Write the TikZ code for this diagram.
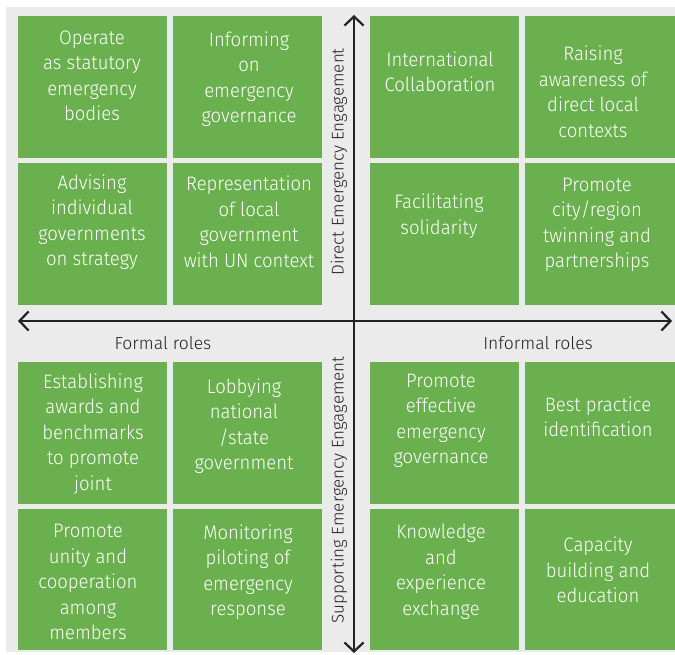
\documentclass[tikz,border=0pt]{standalone}
\usepackage{fontspec}
\setmainfont{Fira Sans Light}
\newfontfamily\boxfont{Fira Sans Light}[FakeStretch=0.95]
\usetikzlibrary{arrows.meta}
\definecolor{gr}{RGB}{106,176,78}
\definecolor{bg}{RGB}{235,235,236}
\definecolor{ax}{RGB}{35,35,35}
\tikzset{
  gbox/.style={fill=gr, draw=none, inner sep=0pt, anchor=north west},
  btext/.style={text=white, align=center, font=\boxfont\fontsize{19.5}{25.5}\selectfont, inner sep=0pt},
  rolelab/.style={text=ax, font=\fontsize{17.5}{21}\selectfont, inner sep=0pt},
  axlab/.style={text=ax, font=\fontsize{17}{21}\selectfont, inner sep=0pt, rotate=90},
  axis/.style={draw=ax, line width=2.4pt, -{Straight Barb[length=9pt,width=19pt,line width=2.2pt]}}
}
\begin{document}
\begin{tikzpicture}[x=1pt,y=-1pt]
\useasboundingbox (0,0) rectangle (675,655);
\fill[white] (0,0) rectangle (675,655);
\fill[bg] (6,7) rectangle (675,652);
% boxes
\node[gbox, minimum width=149pt, minimum height=142pt] (A1) at (18,16) {};
\node[gbox, minimum width=149pt, minimum height=142pt] (A2) at (173,16) {};
\node[gbox, minimum width=149pt, minimum height=142pt] (A3) at (18,163) {};
\node[gbox, minimum width=149pt, minimum height=142pt] (A4) at (173,163) {};
\node[gbox, minimum width=149pt, minimum height=142pt] (B1) at (370,16) {};
\node[gbox, minimum width=150pt, minimum height=142pt] (B2) at (525,16) {};
\node[gbox, minimum width=149pt, minimum height=142pt] (B3) at (370,163) {};
\node[gbox, minimum width=150pt, minimum height=142pt] (B4) at (525,163) {};
\node[gbox, minimum width=149pt, minimum height=142pt] (C1) at (18,362) {};
\node[gbox, minimum width=149pt, minimum height=142pt] (C2) at (173,362) {};
\node[gbox, minimum width=149pt, minimum height=141pt] (C3) at (18,509) {};
\node[gbox, minimum width=149pt, minimum height=141pt] (C4) at (173,509) {};
\node[gbox, minimum width=149pt, minimum height=142pt] (D1) at (370,362) {};
\node[gbox, minimum width=150pt, minimum height=142pt] (D2) at (525,362) {};
\node[gbox, minimum width=149pt, minimum height=141pt] (D3) at (370,509) {};
\node[gbox, minimum width=150pt, minimum height=141pt] (D4) at (525,509) {};
% texts
\node[btext] (tA1) at (92,76) {Operate\\as statutory\\emergency\\bodies};
\node[btext] (tA2) at (249,79) {Informing\\on\\emergency\\governance};
\node[btext] (tA3) at (92,222) {Advising\\individual\\governments\\on strategy};
\node[btext] (tA4) at (249,222) {Representation\\of local\\government\\with UN context};
\node[btext] (tB1) at (440,72) {International\\Collaboration};
\node[btext] (tB2) at (593,92) {Raising\\awareness of\\direct local\\contexts};
\node[btext] (tB3) at (439,216) {Facilitating\\solidarity};
\node[btext] (tB4) at (597,225) {Promote\\city/region\\twinning and\\partnerships};
\node[btext] (tC1) at (93,434) {Establishing\\awards and\\benchmarks\\to promote\\joint};
\node[btext] (tC2) at (244,426) {Lobbying\\national\\/state\\government};
\node[btext] (tC3) at (88,582) {Promote\\unity and\\cooperation\\among\\members};
\node[btext] (tC4) at (248,572) {Monitoring\\piloting of\\emergency\\response};
\node[btext] (tD1) at (441,421) {Promote\\effective\\emergency\\governance};
\node[btext] (tD2) at (598,417) {Best practice\\identification};
\node[btext] (tD3) at (441,572) {Knowledge\\and\\experience\\exchange};
\node[btext] (tD4) at (598,570) {Capacity\\building and\\education};
% axes
\coordinate (O) at (354,321);
\coordinate (L) at (18,321);
\coordinate (R) at (672,321);
\coordinate (T) at (354,15);
\coordinate (Bt) at (354,653);
\draw[axis] (O) -- (L);
\draw[axis] (O) -- (R);
\draw[axis] (O) -- (T);
\draw[axis] (O) -- (Bt);
\node[rolelab] (formal) at (163,343) {Formal roles};
\node[rolelab] (informal) at (538,343) {Informal roles};
\node[axlab] (direct) at (339,162) {Direct Emergency Engagement};
\node[axlab] (support) at (339,490) {Supporting Emergency Engagement};
\end{tikzpicture}
\end{document}
